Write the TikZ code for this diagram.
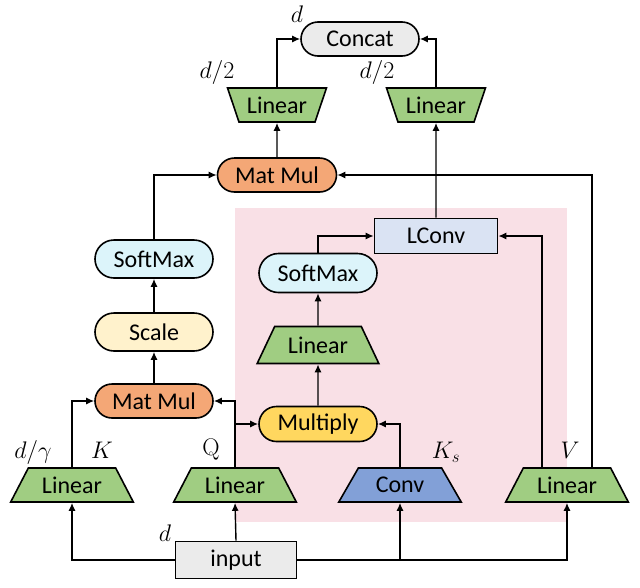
\documentclass[tikz,border=0pt]{standalone}
\usepackage{fix-cm}
\usepackage[no-math]{fontspec}
\setmainfont{Carlito}
\usepackage{tikz}
\usetikzlibrary{shapes.geometric,shapes.misc}
\usetikzlibrary{arrows.meta}
\usepackage{xcolor}
\definecolor{ColLin}{RGB}{160,205,130}
\definecolor{ColOra}{RGB}{244,167,118}
\definecolor{ColSm}{RGB}{220,244,250}
\definecolor{ColSc}{RGB}{255,242,204}
\definecolor{ColMu}{RGB}{255,215,95}
\definecolor{ColConv}{RGB}{130,160,215}
\definecolor{ColLc}{RGB}{218,227,243}
\definecolor{ColGr}{RGB}{235,235,235}
\definecolor{ColBg}{RGB}{249,224,230}
\tikzstyle{NodePill}=[rounded rectangle,draw=black,line width=1.6pt,minimum width=122pt,
minimum height=36pt,inner sep=2pt]
\tikzstyle{NodeBox}=[rectangle,draw=black,line width=1.6pt,minimum width=122pt,
minimum height=35pt,inner sep=2pt]
\tikzstyle{NodeTrap}=[trapezium,trapezium stretches=true,trapezium left angle=58,
trapezium right angle=58,draw=black,line width=1.6pt,minimum width=123pt,minimum height=34pt,
inner sep=2pt,fill=ColLin]
\tikzstyle{NodeTrapInv}=[NodeTrap,trapezium left angle=115,trapezium right angle=115,
minimum width=99pt]
\tikzstyle{EdgeArrow}=[line width=1.4pt,-{Latex[length=8pt,width=7pt]}]
\tikzstyle{LabelMath}=[inner sep=0pt,font=\fontsize{24}{28}\selectfont]

\begin{document}
\begin{tikzpicture}[x=1pt,y=-1pt,font=\fontsize{24}{28}\selectfont]
        \useasboundingbox(0,0)rectangle(640,587);
        \fill[ColBg](235,208)rectangle(567,522);
        \node[NodePill,fill=ColGr,minimum height=34pt](concat)at(360,39){Concat};
        \node[NodeTrapInv](linA)at(277,105){Linear};
        \node[NodeTrapInv](linB)at(436,105){Linear};
        \node[NodePill,fill=ColOra,minimum width=123pt,minimum height=34pt](mulT)at(277,175){Mat Mul};
        \node[NodeBox,fill=ColLc,minimum width=123pt](lconv)at(436,236){LConv};
        \node[NodePill,minimum height=38pt,fill=ColSm](smL)at(154,259){SoftMax};
        \node[NodePill,minimum height=38pt,fill=ColSc](scale)at(154,332){Scale};
        \node[NodePill,fill=ColOra,minimum height=34pt](mulL)at(154,401){Mat Mul};
        \node[NodePill,minimum height=39pt,fill=ColSm](smR)at(318,273){SoftMax};
        \node[NodeTrap,minimum width=122pt,minimum height=37pt](linM)at(318,345){Linear};
        \node[NodePill,fill=ColMu,minimum height=35pt](mult)at(318,424){Multiply};
        \node[NodeTrap](linK)at(72,485){Linear};
        \node[NodeTrap](linQ)at(235,485){Linear};
        \node[NodeTrap,fill=ColConv](conv)at(400,485){Conv};
        \node[NodeTrap](linV)at(567,485){Linear};
        \node[NodeBox,fill=ColGr,minimum width=121pt,minimum height=37pt](input)at(236,560){input};
        \node[LabelMath](dTop)at(297,14){$d$};
        \node[LabelMath](dA)at(217,72){$d/2$};
        \node[LabelMath](dB)at(377,72){$d/2$};
        \node[LabelMath](dK)at(33,452){$d/\gamma$};
        \node[LabelMath](kK)at(102,450){$K$};
        \node[LabelMath](kQ)at(211,450){$\mathrm{Q}$};
        \node[LabelMath](kS)at(446,452){$K_s$};
        \node[LabelMath](kV)at(570,450){$V$};
        \node[LabelMath](dIn)at(165,533){$d$};
        \draw[EdgeArrow](linA.north)|-(concat.west);
        \draw[EdgeArrow](linB.north)|-(concat.east);
        \draw[EdgeArrow](mulT.north)--(linA.south);
        \draw[EdgeArrow](lconv.north)--(linB.south);
        \draw[EdgeArrow](smL.north)|-(mulT.west);
        \draw[EdgeArrow]([xshift=25pt]linV.north)|-(mulT.east);
        \draw[EdgeArrow]([xshift=-25pt]linV.north)|-(lconv.east);
        \draw[EdgeArrow](smR.north)|-(lconv.west);
        \draw[EdgeArrow](linM.north)--(smR.south);
        \draw[EdgeArrow](mult.north)--(linM.south);
        \draw[EdgeArrow](mulL.north)--(scale.south);
        \draw[EdgeArrow](scale.north)--(smL.south);
        \draw[EdgeArrow](linK.north)|-(mulL.west);
        \draw[EdgeArrow](linQ.north)|-(mulL.east);
        \draw[EdgeArrow](linQ.north)|-(mult.west);
        \draw[EdgeArrow](conv.north)|-(mult.east);
        \draw[EdgeArrow](input.west)-|(linK.south);
        \draw[EdgeArrow](input.east)-|(linV.south);
        \draw[EdgeArrow](conv.south|-input.east)--(conv.south);
        \draw[EdgeArrow](input.north)--(linQ.south);
    \end{tikzpicture}
\end{document}
